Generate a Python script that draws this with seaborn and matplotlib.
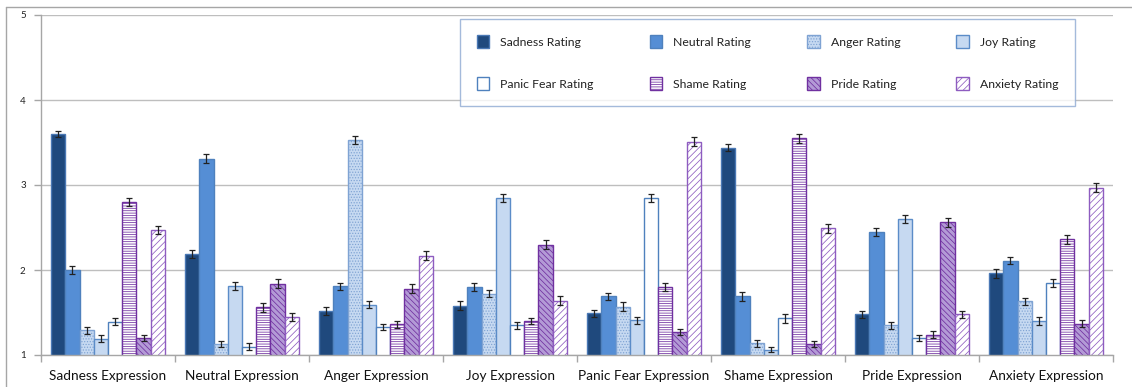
import matplotlib
matplotlib.use("Agg")
import matplotlib.pyplot as plt
from matplotlib.lines import Line2D
import numpy as np
import pandas as pd
import seaborn as sns

# Mean ratings (with standard errors) for each facial expression
expressions = ["Sadness Expression", "Neutral Expression", "Anger Expression",
               "Joy Expression", "Panic Fear Expression", "Shame Expression",
               "Pride Expression", "Anxiety Expression"]

rating_names = ["Sadness Rating", "Neutral Rating", "Anger Rating", "Joy Rating",
                "Panic Fear Rating", "Shame Rating", "Pride Rating", "Anxiety Rating"]

sadness_rating = [3.60, 2.19, 1.52, 1.58, 1.49, 3.44, 1.48, 1.96]
neutral_rating = [2.00, 3.31, 1.81, 1.80, 1.69, 1.69, 2.45, 2.11]
anger_rating   = [1.29, 1.13, 3.53, 1.72, 1.57, 1.14, 1.35, 1.63]
joy_rating     = [1.19, 1.81, 1.59, 2.85, 1.41, 1.06, 2.60, 1.40]
panic_rating   = [1.39, 1.10, 1.33, 1.35, 2.85, 1.43, 1.20, 1.85]
shame_rating   = [2.80, 1.56, 1.36, 1.40, 1.80, 3.55, 1.24, 2.36]
pride_rating   = [1.20, 1.84, 1.78, 2.30, 1.27, 1.13, 2.56, 1.37]
anxiety_rating = [2.47, 1.45, 2.17, 1.64, 3.51, 2.49, 1.48, 2.97]

sadness_se = [0.04, 0.05, 0.05, 0.05, 0.04, 0.04, 0.04, 0.05]
neutral_se = [0.05, 0.05, 0.04, 0.05, 0.04, 0.05, 0.05, 0.04]
anger_se   = [0.04, 0.04, 0.05, 0.04, 0.05, 0.04, 0.04, 0.04]
joy_se     = [0.04, 0.05, 0.04, 0.05, 0.04, 0.03, 0.05, 0.05]
panic_se   = [0.04, 0.04, 0.04, 0.04, 0.05, 0.05, 0.03, 0.05]
shame_se   = [0.05, 0.05, 0.04, 0.04, 0.05, 0.05, 0.04, 0.05]
pride_se   = [0.04, 0.05, 0.05, 0.05, 0.04, 0.04, 0.05, 0.04]
anxiety_se = [0.05, 0.05, 0.05, 0.05, 0.05, 0.05, 0.04, 0.05]

series = [sadness_rating, neutral_rating, anger_rating, joy_rating,
          panic_rating, shame_rating, pride_rating, anxiety_rating]
errors = [sadness_se, neutral_se, anger_se, joy_se,
          panic_se, shame_se, pride_se, anxiety_se]

df = pd.DataFrame({
    "Expression": np.repeat([expressions], len(rating_names), axis=0).ravel(),
    "Measure": np.repeat(rating_names, len(expressions)),
    "Rating": np.concatenate(series),
    "SE": np.concatenate(errors),
})

# Fill / edge / hatch for each rating series
styles = [
    dict(facecolor="#1F497D", edgecolor="#4A78B5", hatch=None),
    dict(facecolor="#558ED5", edgecolor="#4F81BD", hatch=None),
    dict(facecolor="#C6D9F1", edgecolor="#7FA3D3", hatch="......"),
    dict(facecolor="#C6D9F1", edgecolor="#5B8CC8", hatch=None),
    dict(facecolor="#FFFFFF", edgecolor="#4F81BD", hatch=None),
    dict(facecolor="#FFFFFF", edgecolor="#7030A0", hatch="-------"),
    dict(facecolor="#B39AD6", edgecolor="#7030A0", hatch="\\\\\\\\\\\\"),
    dict(facecolor="#FFFFFF", edgecolor="#8E5CC0", hatch="/////"),
]

sns.set_theme(style="white")
plt.rcParams["font.family"] = ["Lato", "DejaVu Sans"]
plt.rcParams["hatch.linewidth"] = 0.55

fig = plt.figure(figsize=(11.32, 3.87), dpi=100)
ax = fig.add_axes([41 / 1132, 1 - 355 / 387, (1113 - 41) / 1132, (355 - 15) / 387])

sns.barplot(data=df, x="Expression", y="Rating", hue="Measure",
            order=expressions, hue_order=rating_names,
            width=0.85, gap=0, errorbar=None, legend=False,
            palette=[s["facecolor"] for s in styles], ax=ax, zorder=2)

handles = []
for container, style, se in zip(ax.containers, styles, errors):
    for bar in container.patches:
        bar.set_facecolor(style["facecolor"])
        bar.set_edgecolor(style["edgecolor"])
        bar.set_linewidth(1.0)
        if style["hatch"]:
            bar.set_hatch(style["hatch"])
    centers = [b.get_x() + b.get_width() / 2 for b in container.patches]
    heights = [b.get_height() for b in container.patches]
    ax.errorbar(centers, heights, yerr=se, fmt="none", ecolor="#222222",
                elinewidth=0.9, capsize=2.5, capthick=0.9, zorder=3)
    handles.append(container.patches[0])

# Axes styling
ax.set_ylim(1, 5)
ax.set_xlim(-0.5, len(expressions) - 0.5)
ax.set_yticks([1, 2, 3, 4, 5])
ax.yaxis.grid(True, color="#BEBEBE", linewidth=1.0, zorder=0)
ax.set_axisbelow(True)
ax.set_xlabel("")
ax.set_ylabel("")
for side in ["top", "right"]:
    ax.spines[side].set_visible(False)
for side in ["left", "bottom"]:
    ax.spines[side].set_color("#A6A6A6")
    ax.spines[side].set_linewidth(1.0)

ax.tick_params(axis="y", which="major", direction="out", length=5, width=1,
               color="#A6A6A6", labelsize=7, labelcolor="#222222", pad=6, left=True)
ax.set_xticks(np.arange(-0.5, len(expressions)), minor=True)
ax.tick_params(axis="x", which="minor", direction="out", length=5, width=1,
               color="#A6A6A6", bottom=True)
ax.tick_params(axis="x", which="major", length=0, labelsize=9.8,
               labelcolor="#111111", pad=11)

# Legend filled row by row: 4 columns, 2 rows
ncol = 4
nrow = 2
order = [r * ncol + c for c in range(ncol) for r in range(nrow)]
leg = fig.legend(handles=[handles[i] for i in order],
                 labels=[rating_names[i] for i in order], ncol=ncol,
                 bbox_to_anchor=(460 / 1132, 1 - 107 / 387, 615 / 1132, 89 / 387),
                 loc="center", mode="expand", frameon=True, fancybox=False,
                 fontsize=8.8, handlelength=1.05, handleheight=1.2,
                 handletextpad=0.9, labelspacing=2.4, borderaxespad=0,
                 borderpad=1.35)
leg.get_frame().set_edgecolor("#8EA9D2")
leg.get_frame().set_linewidth(1.0)
for t in leg.get_texts():
    t.set_color("#222222")

# Chart-area border on left and top
fig.add_artist(Line2D([6 / 1132, 6 / 1132], [0, 1 - 7 / 387], color="#A6A6A6", lw=1.0))
fig.add_artist(Line2D([6 / 1132, 1], [1 - 7 / 387, 1 - 7 / 387], color="#A6A6A6", lw=1.0))

fig.savefig("out.png", dpi=100)
